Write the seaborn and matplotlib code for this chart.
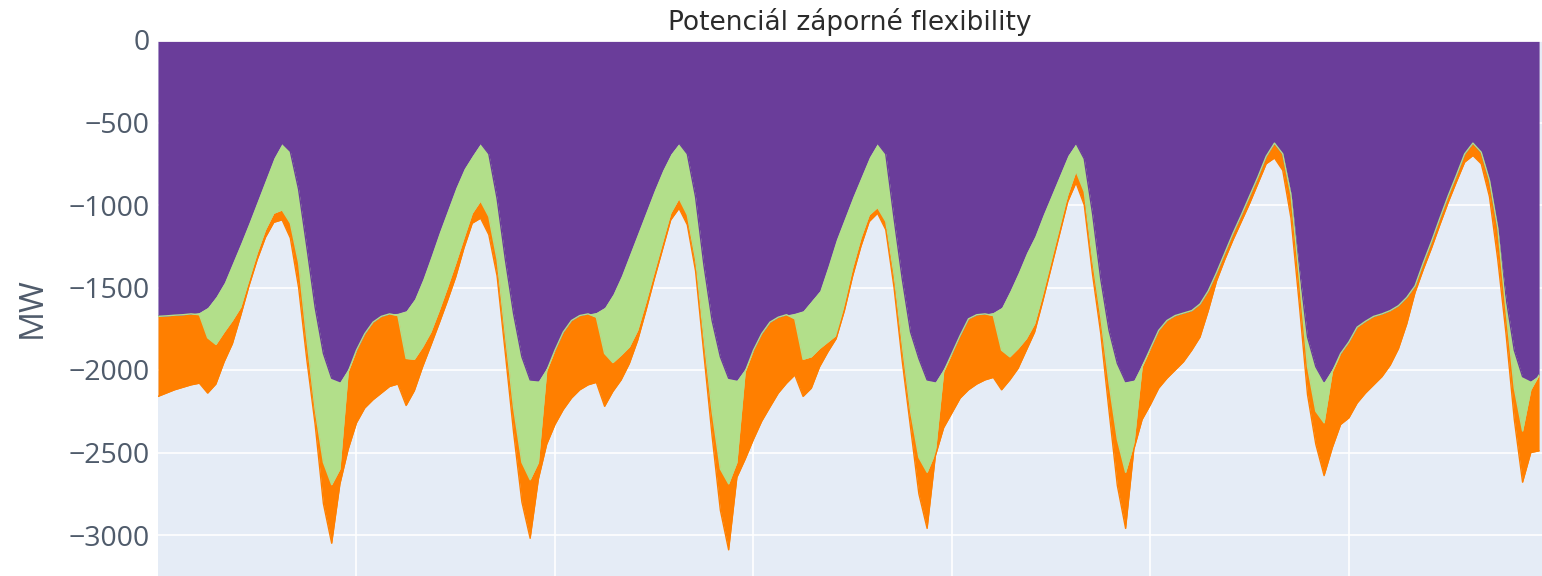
import numpy as np
import pandas as pd
import matplotlib
matplotlib.use("Agg")
import matplotlib.pyplot as plt
import seaborn as sns

# hourly values over one week, MW (stacked, negative)
hours = list(range(168))

purple_mw = [
    -1675, -1672, -1668, -1665, -1660, -1650, -1620, -1555, -1470, -1350, -1230, -1105,
    -975, -845, -715, -625, -675, -905, -1255, -1620, -1900, -2050, -2070, -1990,
    -1880, -1780, -1710, -1675, -1660, -1655, -1640, -1570, -1450, -1310, -1165, -1030,
    -895, -780, -700, -625, -690, -960, -1330, -1660, -1920, -2060, -2065, -1985,
    -1880, -1770, -1700, -1670, -1660, -1650, -1620, -1540, -1430, -1300, -1170, -1040,
    -910, -790, -690, -625, -690, -950, -1360, -1700, -1920, -2050, -2060, -1990,
    -1880, -1780, -1710, -1680, -1665, -1655, -1640, -1580, -1520, -1370, -1210, -1080,
    -950, -830, -710, -625, -690, -1080, -1450, -1770, -1930, -2060, -2070, -1990,
    -1900, -1790, -1690, -1665, -1660, -1650, -1620, -1520, -1410, -1290, -1190, -1060,
    -940, -820, -700, -625, -720, -1050, -1450, -1760, -1960, -2070, -2060, -1960,
    -1870, -1760, -1700, -1670, -1655, -1640, -1600, -1520, -1410, -1290, -1170, -1060,
    -945, -830, -705, -625, -690, -930, -1380, -1800, -1980, -2070, -1990, -1900,
    -1830, -1740, -1705, -1675, -1660, -1640, -1610, -1560, -1490, -1350, -1220, -1080,
    -945, -820, -690, -625, -680, -850, -1140, -1560, -1880, -2040, -2065, -2030,
]

green_mw = [
    0, 0, 0, 0, 0, -15, -185, -290, -300, -350, -390, -350,
    -315, -305, -335, -405, -435, -445, -560, -620, -660, -645, -530, -20,
    0, 0, 0, 0, 0, -15, -290, -365, -410, -460, -475, -470,
    -459, -420, -350, -350, -380, -370, -460, -570, -640, -605, -495, -20,
    0, 0, 0, 0, 0, -30, -280, -415, -480, -560, -590, -550,
    -500, -440, -360, -335, -370, -380, -440, -550, -680, -640, -500, -20,
    0, 0, 0, 0, 0, -35, -295, -340, -350, -460, -580, -520,
    -430, -370, -350, -390, -410, -340, -400, -480, -600, -560, -430, -20,
    0, 0, 0, 0, 0, -20, -260, -400, -460, -520, -530, -480,
    -400, -320, -240, -170, -200, -280, -230, -320, -460, -550, -390, -20,
    0, 0, 0, 0, 0, 0, 0, 0, 0, 0, 0, 0,
    0, 0, 0, 0, 0, -10, -60, -180, -270, -250, -20, 0,
    0, 0, 0, 0, 0, 0, 0, 0, 0, 0, 0, 0,
    0, 0, 0, 0, 0, 0, 0, -80, -230, -330, -55, 0,
]

orange_mw = [
    -485, -468, -452, -440, -430, -415, -335, -240, -180, -140, -50, -35,
    -40, -45, -55, -60, -90, -150, -125, -90, -250, -355, -90, -470,
    -440, -450, -470, -465, -440, -415, -285, -190, -120, -80, -77, -80,
    -82, -60, -60, -105, -110, -100, -110, -150, -240, -355, -100, -445,
    -450, -470, -470, -450, -430, -395, -320, -175, -150, -100, -60, -50,
    -40, -40, -40, -60, -60, -70, -100, -150, -250, -400, -90, -530,
    -540, -530, -514, -460, -415, -340, -225, -190, -110, -60, -20, -40,
    -50, -50, -40, -35, -50, -80, -100, -100, -220, -340, -20, -340,
    -360, -380, -430, -420, -400, -375, -240, -140, -120, -70, -50, -40,
    -40, -40, -40, -70, -80, -90, -100, -170, -280, -340, -30, -320,
    -340, -350, -350, -330, -295, -240, -200, -120, -50, -40, -40, -40,
    -45, -40, -45, -90, -100, -140, -160, -170, -200, -320, -460, -430,
    -460, -460, -435, -415, -380, -330, -260, -160, -40, -40, -40, -40,
    -40, -40, -50, -75, -70, -100, -190, -140, -190, -310, -380, -460,
]

series = ["purple", "green", "orange"]
colors = {"purple": "#6a3d9a", "green": "#b2df8a", "orange": "#ff7f00"}
y_ticks = [0, -500, -1000, -1500, -2000, -2500, -3000]

df = pd.DataFrame({"hour": hours, "purple": purple_mw, "green": green_mw, "orange": orange_mw})
stack = df[series].cumsum(axis=1)

sns.set_theme(style="darkgrid", rc={
    "axes.facecolor": "#e5ecf6",
    "grid.color": "white",
    "grid.linewidth": 1.2,
    "axes.edgecolor": "#e5ecf6",
})
plt.rcParams["font.family"] = ["Open Sans", "DejaVu Sans"]

W, H = 1542, 576
fig = plt.figure(figsize=(W / 100, H / 100), dpi=100)
ax = fig.add_axes([158 / W, 0, (W - 158) / W, (H - 40) / H])
ax.set_axisbelow(True)

lower = np.zeros(len(df))
for name in series:
    upper = stack[name].to_numpy()
    ax.fill_between(df["hour"], lower, upper, color=colors[name], lw=0, zorder=2)
    sns.lineplot(x=df["hour"], y=upper, color=colors[name], lw=1, ax=ax, zorder=3)
    lower = upper

ax.set_xlim(0, (W - 158) / 8.27)
ax.set_ylim(-(H - 40) / 0.165, 0)
ax.set_xticks(range(24, 168, 24))
ax.set_xticklabels([])
ax.set_yticks(y_ticks)
ax.tick_params(axis="y", labelsize=20.5, labelcolor="#4f5b6b", length=0, pad=6)
ax.tick_params(axis="x", length=0)
ax.set_xlabel("")
ax.set_ylabel("MW", fontsize=24, color="#4f5b6b")
ax.yaxis.set_label_coords(-0.079, 0.5)
for s in ax.spines.values():
    s.set_visible(False)
ax.axhline(0, color="white", lw=2, zorder=4)

fig.text((158 + W) / 2 / W, 1 - 22 / H, "Potenciál záporné flexibility",
         ha="center", va="center", fontsize=19, color="#2b2b2b",
         family=["DejaVu Sans"])

fig.savefig("out.png", dpi=100)
